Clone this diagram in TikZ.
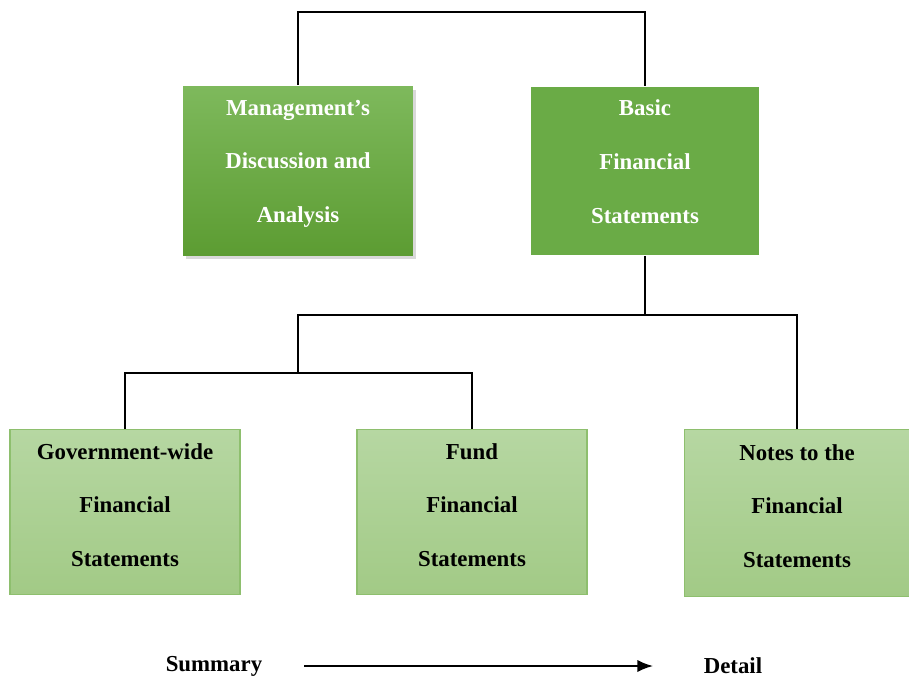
\documentclass[tikz,border=0pt]{standalone}
\usepackage{fontspec}
\setmainfont{Liberation Serif}
\usetikzlibrary{arrows.meta,shadows}
\definecolor{darkgreen}{HTML}{6AAB46}
\definecolor{darktop}{HTML}{7EB95C}
\definecolor{darkbot}{HTML}{5C9C32}
\definecolor{lighttop}{HTML}{B6D7A2}
\definecolor{lightbot}{HTML}{A2CA86}
\definecolor{lightline}{HTML}{8EBF6E}
\tikzstyle{topbox}=[shape=rectangle,
                minimum width=4.6cm,
                minimum height=3.4cm,
                align=center,
                text=white,
                text depth=11pt,
                font=\bfseries\fontsize{13}{30.6}\selectfont]
\tikzstyle{subbox}=[shape=rectangle,
                draw=lightline,
                top color=lighttop,
                bottom color=lightbot,
                minimum width=4.6cm,
                minimum height=3.3cm,
                align=center,
                text depth=8pt,
                font=\bfseries\fontsize{13}{30.6}\selectfont]
\tikzstyle{tag}=[font=\bfseries\fontsize{13}{15}\selectfont]

\begin{document}
\begin{tikzpicture}[x=0.02cm,y=-0.02cm,line width=1.1pt]
\useasboundingbox (0,0) rectangle (909,679);

% top level
\node[topbox, top color=darktop, bottom color=darkbot,
      drop shadow={shadow xshift=1.5pt, shadow yshift=-2pt, opacity=0.3}]
      (mda) at (298,171) {Management's\\Discussion and\\Analysis};
\node[topbox, fill=darkgreen, minimum width=4.56cm, minimum height=3.36cm]
      (bfs) at (645,171) {Basic\\Financial\\Statements};

% statements
\node[subbox] (gw)    at (125,512) {Government-wide\\Financial\\Statements};
\node[subbox] (fund)  at (472,512) {Fund\\Financial\\Statements};
\node[subbox, minimum width=4.5cm, minimum height=3.34cm]
      (notes) at (797,513) {Notes to the\\Financial\\Statements};

% junctions
\coordinate (t0) at (470,12);
\coordinate (b1) at (645,315);
\coordinate (b2) at (298,373);

% lines
\draw (mda.north) |- (t0) -| (bfs.north);
\draw (bfs.south) -- (b1);
\draw (notes.north) |- (b1);
\draw (b2) |- (b1);
\draw (gw.north) |- (b2);
\draw (fund.north) |- (b2);

% summary to detail
\node[tag] (sum) at (214,666) {Summary};
\node[tag] (det) at (733,666) {Detail};
\draw[-{Latex[length=9pt,width=7pt]}, shorten <=20pt, shorten >=25pt] (sum) -- (det);

\end{tikzpicture}
\end{document}
